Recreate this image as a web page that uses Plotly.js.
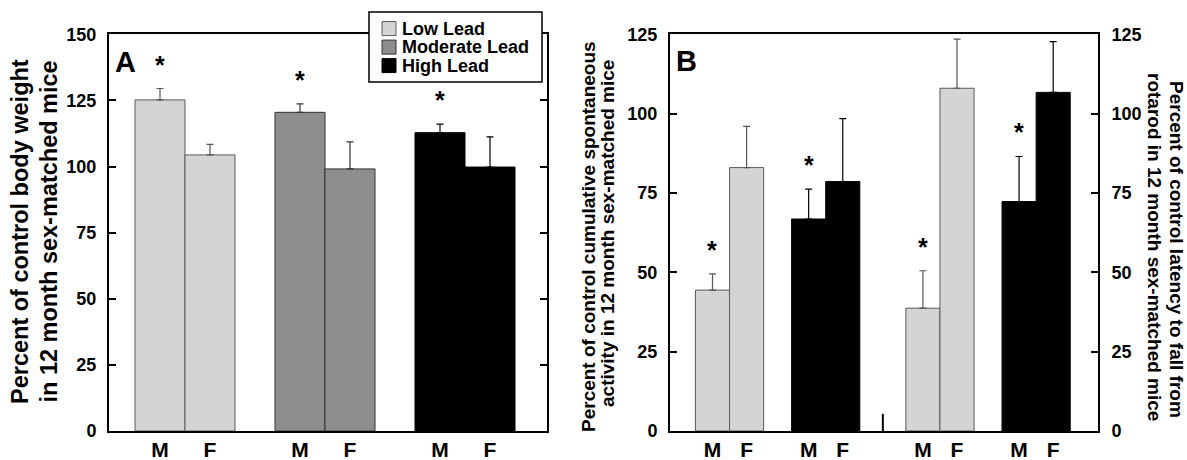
<!DOCTYPE html>
<html>
<head>
<meta charset="utf-8">
<script src="https://cdn.plot.ly/plotly-3.0.1.min.js"></script>
<style>html,body{margin:0;padding:0;background:#fff}</style>
</head>
<body>
<div id="chart" style="width:1187px;height:460px"></div>
<script>
// ---------- DATA ----------
const sexLabels = ['M', 'F'];
const leadNames = ['Low Lead', 'Moderate Lead', 'High Lead'];

// Panel A: percent of control body weight (mean, SEM)
const weightLow = [125.2, 104.4];
const weightLowSem = [4.3, 4.0];
const weightModerate = [120.5, 99.1];
const weightModerateSem = [3.2, 10.2];
const weightHigh = [112.8, 99.8];
const weightHighSem = [3.2, 11.4];
const weightSig = [[true, false], [true, false], [true, false]];

// Panel B left: percent of control cumulative spontaneous activity
const activityLow = [44.4, 83.0];
const activityLowSem = [5.1, 13.0];
const activityHigh = [66.8, 78.6];
const activityHighSem = [9.4, 19.8];
const activitySig = [[true, false], [true, false]];

// Panel B right: percent of control latency to fall from rotarod
const rotarodLow = [38.7, 108.0];
const rotarodLowSem = [11.8, 15.5];
const rotarodHigh = [72.3, 106.7];
const rotarodHighSem = [14.2, 16.0];
const rotarodSig = [[true, false], [true, false]];

const yTicksA = [0, 25, 50, 75, 100, 125, 150];
const yTicksB = [0, 25, 50, 75, 100, 125];

// ---------- STYLE ----------
const W = 1187, H = 460;
const FONT = 'Liberation Sans, Arial, Helvetica, sans-serif';
const colors = {'Low Lead': '#d4d4d4', 'Moderate Lead': '#8e8e8e', 'High Lead': '#000000'};
const outline = {'Low Lead': '#5a5a5a', 'Moderate Lead': '#333333', 'High Lead': '#000000'};
const errColor = {'Low Lead': '#555555', 'Moderate Lead': '#333333', 'High Lead': '#000000'};

// positions (layout only)
const posA = (g, s) => g * 2.8 + s;
const posB = (block, g, s) => block * 6.17 + g * 2.82 + s;

function barTrace(name, xs, ys, sem, xa, ya) {
  return {
    type: 'bar', name: name, x: xs, y: ys, width: 1,
    xaxis: xa, yaxis: ya, showlegend: false, legendgroup: name,
    marker: {color: colors[name], line: {color: outline[name], width: 1}},
    error_y: {type: 'data', symmetric: false, array: sem, arrayminus: sem.map(() => 0),
              color: errColor[name], thickness: 1.2, width: 3.5},
    hoverinfo: 'x+y'
  };
}

const traces = [];
const annotations = [];
const shapes = [];
function star(x, ytop, xref, yref) {
  annotations.push({x: x, y: ytop, xref: xref, yref: yref, text: '*', showarrow: false,
    xanchor: 'center', yanchor: 'middle', yshift: 24,
    font: {family: FONT, size: 25, color: '#000', weight: 'bold'}});
}

// Panel A
const weightSets = [[weightLow, weightLowSem], [weightModerate, weightModerateSem], [weightHigh, weightHighSem]];
weightSets.forEach((d, g) => {
  const xs = sexLabels.map((_, s) => posA(g, s));
  traces.push(barTrace(leadNames[g], xs, d[0], d[1], 'x', 'y'));
  weightSig[g].forEach((sig, s) => { if (sig) star(xs[s], d[0][s] + d[1][s], 'x', 'y'); });
});

// Panel B
const actSets = [[activityLow, activityLowSem, 'Low Lead'], [activityHigh, activityHighSem, 'High Lead']];
actSets.forEach((d, g) => {
  const xs = sexLabels.map((_, s) => posB(0, g, s));
  traces.push(barTrace(d[2], xs, d[0], d[1], 'x2', 'y2'));
  activitySig[g].forEach((sig, s) => { if (sig) star(xs[s], d[0][s] + d[1][s], 'x2', 'y2'); });
});
const rotSets = [[rotarodLow, rotarodLowSem, 'Low Lead'], [rotarodHigh, rotarodHighSem, 'High Lead']];
rotSets.forEach((d, g) => {
  const xs = sexLabels.map((_, s) => posB(1, g, s));
  traces.push(barTrace(d[2], xs, d[0], d[1], 'x2', 'y3'));
  rotarodSig[g].forEach((sig, s) => { if (sig) star(xs[s], d[0][s] + d[1][s], 'x2', 'y3'); });
});

const tickValsA = [], tickTextA = [];
[0, 1, 2].forEach(g => sexLabels.forEach((t, s) => { tickValsA.push(posA(g, s)); tickTextA.push(t); }));
const tickValsB = [], tickTextB = [];
[0, 1].forEach(b => [0, 1].forEach(g => sexLabels.forEach((t, s) => { tickValsB.push(posB(b, g, s)); tickTextB.push(t); })));

// titles / panel letters
function paperText(text, px, py, size, angle, xanchor) {
  annotations.push({xref: 'paper', yref: 'paper', x: px / W, y: 1 - py / H, text: text,
    showarrow: false, xanchor: xanchor || 'center', yanchor: 'middle', textangle: angle,
    font: {family: FONT, size: size, color: '#000', weight: 'bold'}});
}
paperText('Percent of control body weight', 20, 232, 23.5, -90);
paperText('in 12 month sex-matched mice', 48.5, 232, 23.5, -90);
paperText('Percent of control cumulative spontaneous', 588, 237, 19, -90);
paperText('activity in 12 month sex-matched mice', 608, 233, 19, -90);
paperText('Percent of control latency to fall from', 1177, 249, 19, 90);
paperText('rotarod in 12 month sex-matched mice', 1155, 247, 19, 90);
paperText('A', 125.5, 62, 29, 0);
paperText('B', 686.5, 61, 29, 0);

// legend (drawn as a boxed key over panel A's top-right corner)
const px = v => v / W, py = v => 1 - v / H;
shapes.push({type: 'rect', xref: 'paper', yref: 'paper', layer: 'above',
  x0: px(369), x1: px(542), y0: py(12), y1: py(82),
  fillcolor: '#fff', line: {color: '#000', width: 1.5}});
leadNames.forEach((name, i) => {
  const cy = 28.6 + i * 18.5;
  shapes.push({type: 'rect', xref: 'paper', yref: 'paper', layer: 'above',
    x0: px(382), x1: px(396), y0: py(cy - 7), y1: py(cy + 7),
    fillcolor: colors[name], line: {color: outline[name], width: 1}});
  annotations.push({xref: 'paper', yref: 'paper', x: px(400), y: py(cy), text: name,
    showarrow: false, xanchor: 'left', yanchor: 'middle',
    font: {family: FONT, size: 18, color: '#000', weight: 'bold'}});
});

// small divider tick between the two halves of panel B
const divX = (posB(0, 1, 1) + 0.5 + posB(1, 0, 0) - 0.5) / 2;
shapes.push({type: 'line', xref: 'x2', yref: 'y2', x0: divX, x1: divX, y0: 0, y1: 5.4,
  line: {color: '#000', width: 2}});

const axisFont = {family: FONT, size: 18, color: '#000', weight: 'bold'};
const sexFont = {family: FONT, size: 21, color: '#000', weight: 'bold'};
const yDom = [29 / H, 1 - 34.3 / H];

const layout = {
  width: W, height: H,
  margin: {l: 0, r: 0, t: 0, b: 0},
  paper_bgcolor: '#fff', plot_bgcolor: '#fff',
  barmode: 'overlay',
  showlegend: false,
  xaxis: {domain: [109 / W, 547 / W], range: [-1.02, 7.74], tickvals: tickValsA, ticktext: tickTextA,
          ticks: '', showline: true, linecolor: '#000', linewidth: 2, mirror: true,
          showgrid: false, zeroline: false, tickfont: sexFont, ticklabelstandoff: -1, fixedrange: true},
  yaxis: {domain: yDom, range: [0, 150], tickvals: yTicksA, ticks: 'inside', ticklen: 7, tickwidth: 2,
          tickcolor: '#000', showline: true, linecolor: '#000', linewidth: 2, mirror: 'ticks',
          showgrid: false, zeroline: false, tickfont: axisFont, ticklabelstandoff: 7, fixedrange: true},
  xaxis2: {domain: [670 / W, 1098 / W], range: [-1.246, 11.304], anchor: 'y2', tickvals: tickValsB, ticktext: tickTextB,
          ticks: '', showline: true, linecolor: '#000', linewidth: 2, mirror: true,
          showgrid: false, zeroline: false, tickfont: sexFont, ticklabelstandoff: -1, fixedrange: true},
  yaxis2: {domain: yDom, anchor: 'x2', range: [0, 125], tickvals: yTicksB, ticks: 'inside', ticklen: 7, tickwidth: 2,
          tickcolor: '#000', showline: true, linecolor: '#000', linewidth: 2,
          showgrid: false, zeroline: false, tickfont: axisFont, ticklabelstandoff: 7, fixedrange: true},
  yaxis3: {domain: yDom, anchor: 'x2', overlaying: 'y2', side: 'right', range: [0, 125], tickvals: yTicksB,
          ticks: 'inside', ticklen: 7, tickwidth: 2, tickcolor: '#000', showline: true, linecolor: '#000', linewidth: 2,
          showgrid: false, zeroline: false, tickfont: axisFont, ticklabelstandoff: 8, fixedrange: true},
  shapes: shapes,
  annotations: annotations
};

Plotly.newPlot('chart', traces, layout, {displayModeBar: false, staticPlot: true});
</script>
</body>
</html>
